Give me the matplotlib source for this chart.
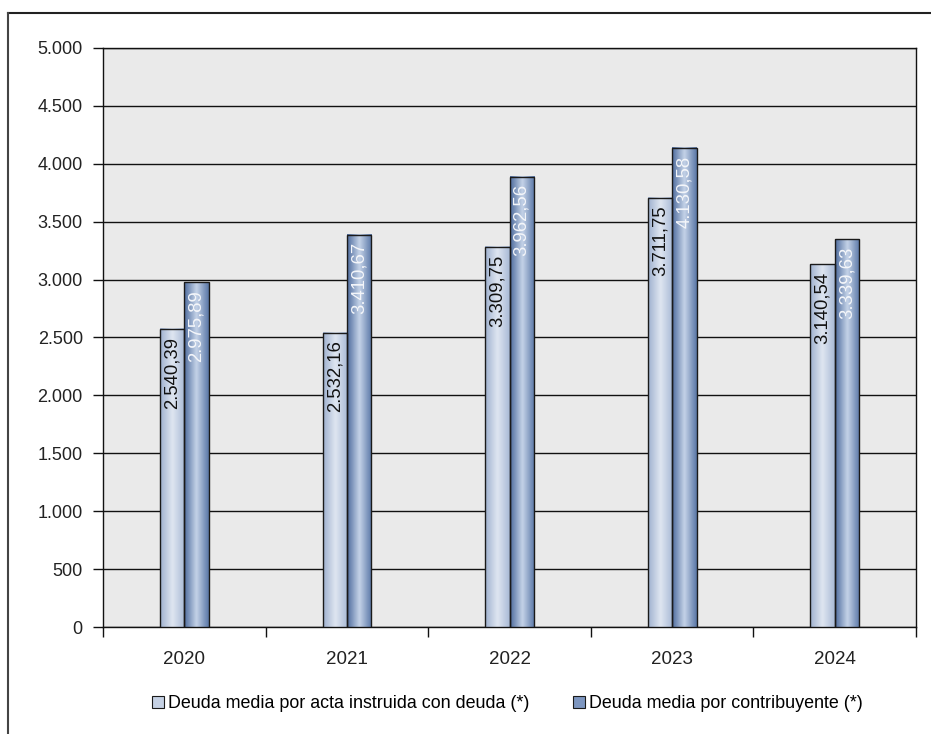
import numpy as np
import matplotlib
matplotlib.use("Agg")
import matplotlib.pyplot as plt
from matplotlib.colors import LinearSegmentedColormap
from matplotlib.lines import Line2D
from matplotlib.patches import Patch
from matplotlib.ticker import FuncFormatter

plt.rcParams['font.family'] = ['Liberation Sans', 'DejaVu Sans']

years = ["2020", "2021", "2022", "2023", "2024"]
series_names = ["Deuda media por acta instruida con deuda (*)",
                "Deuda media por contribuyente (*)"]
# bar heights as drawn in the picture
acta_heights = [2571, 2541, 3283, 3706, 3131]
contrib_heights = [2976, 3387, 3887, 4135, 3347]
# value labels printed on the bars
acta_labels = ["2.540,39", "2.532,16", "3.309,75", "3.711,75", "3.140,54"]
contrib_labels = ["2.975,89", "3.410,67", "3.962,56", "4.130,58", "3.339,63"]

# horizontal gradients: edge -> centre -> edge
cmap_acta = LinearSegmentedColormap.from_list(
    "acta", ["#9fb1cf", "#dfe6f1", "#a9bad6"])
cmap_contrib = LinearSegmentedColormap.from_list(
    "contrib", ["#4e6c9e", "#c5d3e8", "#5a77a7"])

fig = plt.figure(figsize=(9.31, 7.34), dpi=100)
ax = fig.add_axes([0.1106, 0.1454, 0.8734, 0.7896])
ax.set_facecolor("#eaeaea")

x = np.arange(len(years))
bw = 0.15
grad = np.linspace(0, 1, 64).reshape(1, -1)


def gradient_bars(xpos, heights, cmap):
    for xc, h in zip(xpos, heights):
        ax.imshow(grad, cmap=cmap, extent=(xc - bw / 2, xc + bw / 2, 0, h),
                  aspect="auto", zorder=3, interpolation="bicubic")
        ax.bar(xc, h, width=bw, facecolor="none", edgecolor="#1a1a1a",
               linewidth=1.0, zorder=4)


gradient_bars(x - bw / 2, acta_heights, cmap_acta)
gradient_bars(x + bw / 2, contrib_heights, cmap_contrib)

for xc, h, lab in zip(x - bw / 2, acta_heights, acta_labels):
    ax.text(xc, h - 65, lab, rotation=90, ha="center", va="top",
            fontsize=13.3, color="#111111", zorder=5)
for xc, h, lab in zip(x + bw / 2, contrib_heights, contrib_labels):
    ax.text(xc, h - 65, lab, rotation=90, ha="center", va="top",
            fontsize=13.3, color="#f4f6fa", zorder=5)

ax.set_xlim(-0.5, len(years) - 0.5)
ax.set_ylim(0, 5000)
ax.set_yticks(np.arange(0, 5001, 500))
ax.yaxis.set_major_formatter(FuncFormatter(lambda v, p: f"{int(v):,}".replace(",", ".")))
ax.grid(axis="y", color="#111111", linewidth=1.0, zorder=1)
ax.set_axisbelow(True)

ax.set_xticks(x)
ax.set_xticklabels(years)
ax.set_xticks(np.arange(-0.5, len(years), 1.0), minor=True)
ax.tick_params(axis="x", which="major", length=0, pad=17, labelsize=13.5, colors="#222222")
ax.tick_params(axis="x", which="minor", length=7, width=1.0, color="#111111")
ax.tick_params(axis="y", length=7, width=1.0, pad=7.5, labelsize=13, colors="#222222")
ax.tick_params(axis="y", color="#111111")

for s in ax.spines.values():
    s.set_color("#111111")
    s.set_linewidth(1.0)

handles = [Patch(facecolor="#c5d1e4", edgecolor="#1a1a1a", linewidth=0.8),
           Patch(facecolor="#7d96c0", edgecolor="#1a1a1a", linewidth=0.8)]
fig.legend(handles, series_names, loc="center", bbox_to_anchor=(0.545, 0.041),
           ncol=2, frameon=False, fontsize=12.9, handlelength=0.67, handleheight=0.67,
           handletextpad=0.25, columnspacing=2.4)

# outer frame: top and left lines only
fig.add_artist(Line2D([8 / 931, 1.0], [1 - 13 / 734, 1 - 13 / 734],
                      transform=fig.transFigure, color="#222222", linewidth=1.5))
fig.add_artist(Line2D([8 / 931, 8 / 931], [0.0, 1 - 13 / 734],
                      transform=fig.transFigure, color="#444444", linewidth=1.5))

fig.savefig("out.png", dpi=100)
